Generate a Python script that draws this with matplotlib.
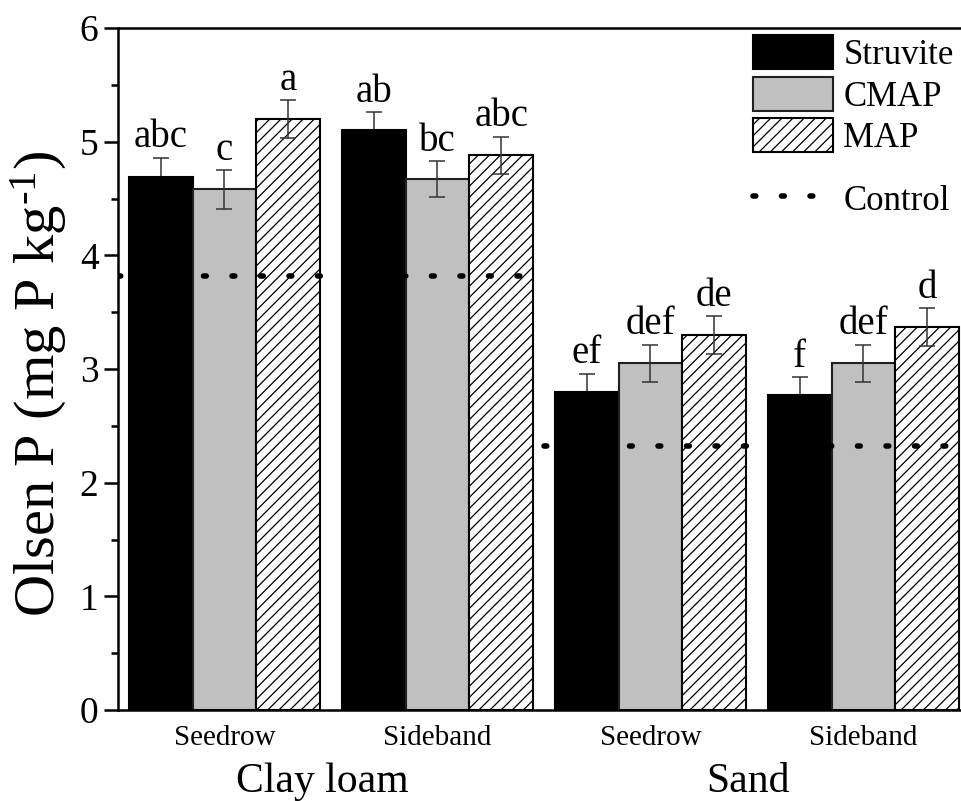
import matplotlib
matplotlib.use('Agg')
import matplotlib.pyplot as plt
import numpy as np
from matplotlib.patches import Patch
from matplotlib.lines import Line2D
import matplotlib.transforms as mtrans

plt.rcParams['font.family'] = ['Liberation Serif', 'DejaVu Serif']
plt.rcParams['mathtext.fontset'] = 'custom'
plt.rcParams['mathtext.rm'] = 'Liberation Serif'
plt.rcParams['mathtext.it'] = 'Liberation Serif:italic'
plt.rcParams['hatch.linewidth'] = 0.9

# ---------------- data ----------------
soils = ['Clay loam', 'Sand']
placements = ['Seedrow', 'Sideband', 'Seedrow', 'Sideband']
sources = ['Struvite', 'CMAP', 'MAP']
struvite = [4.69, 5.10, 2.80, 2.77]
cmap_vals = [4.58, 4.67, 3.05, 3.05]
map_vals = [5.20, 4.88, 3.30, 3.37]
struvite_err = [0.17, 0.16, 0.16, 0.16]
cmap_err = [0.17, 0.16, 0.165, 0.165]
map_err = [0.165, 0.165, 0.165, 0.165]
struvite_let = ['abc', 'ab', 'ef', 'f']
cmap_let = ['c', 'bc', 'def', 'def']
map_let = ['a', 'abc', 'de', 'd']
control = [3.82, 2.32]
yticks = [0, 1, 2, 3, 4, 5, 6]

# ---------------- figure ----------------
W, H = 962, 801
fig = plt.figure(figsize=(W / 100, H / 100), dpi=100)
ax = fig.add_axes([118 / W, 91 / H, 852 / W, 682 / H])

x = np.arange(1, len(placements) + 1)
w = 0.3
series = [
    (struvite, struvite_err, struvite_let, dict(facecolor='black', edgecolor='black'), 1.9),
    (cmap_vals, cmap_err, cmap_let, dict(facecolor='#c0c0c0', edgecolor='#202020'), 4),
    (map_vals, map_err, map_let, dict(facecolor='white', edgecolor='black', hatch='///'), 4),
]
offsets = [-w, 0, w]
for (vals, errs, lets, sty, ez), off in zip(series, offsets):
    ax.bar(x + off, vals, width=w, linewidth=1.5, zorder=2, **sty)
    ax.errorbar(x + off, vals, yerr=errs, fmt='none', ecolor='#333333',
                elinewidth=1.1, capsize=6, capthick=1.1, zorder=ez)
    for xi, v, e, l in zip(x + off, vals, errs, lets):
        ax.annotate(l, (xi, v + e), xytext=(0, 1), textcoords='offset points',
                    ha='center', va='bottom', fontsize=28)

dot_style = dict(color='black', linewidth=4.0, linestyle=(0, (0.5, 4.63)),
                 dash_capstyle='round', zorder=5)
for si, c in enumerate(control):
    g0 = x[2 * si] - 0.5
    g1 = x[2 * si + 1] + 0.5
    ax.plot([g0, g1], [c, c], **dot_style)

ax.set_xlim(0.5, 4.5)
ax.set_ylim(0, 6)
ax.set_yticks(yticks)
ax.set_yticklabels([str(t) for t in yticks], fontsize=27)
ax.set_yticks(np.arange(0.5, 6, 1.0), minor=True)
ax.tick_params(axis='y', which='major', direction='out', length=10, width=1.8, pad=4)
ax.tick_params(axis='y', which='minor', direction='out', length=5, width=1.8)
ax.set_xticks(x)
ax.set_xticklabels(placements, fontsize=21)
ax.tick_params(axis='x', which='both', length=0, pad=11)
for s in ax.spines.values():
    s.set_linewidth(1.8)

trans = mtrans.blended_transform_factory(ax.transData, fig.transFigure)
for si, name in enumerate(soils):
    ax.text((x[2 * si] + x[2 * si + 1]) / 2 - 0.04, 9 / H, name, transform=trans,
            ha='center', va='baseline', fontsize=30)

ax.set_ylabel(r'Olsen P (mg P kg$^{\text{-}1}$)', fontsize=42)
ax.yaxis.set_label_coords(-0.057, 0.478)

handles = [
    Patch(facecolor='black', edgecolor='black', linewidth=1.5),
    Patch(facecolor='#c0c0c0', edgecolor='#202020', linewidth=1.5),
    Patch(facecolor='white', edgecolor='black', hatch='///', linewidth=1.5),
]
leg1 = ax.legend(handles, sources, loc='upper left',
                 bbox_to_anchor=(753 / W, 1 - 35 / H), bbox_transform=fig.transFigure,
                 frameon=False, fontsize=25, handlelength=2.3, handleheight=1.15,
                 handletextpad=0.3, labelspacing=0.13, borderpad=0, borderaxespad=0)
ax.add_artist(leg1)
ax.legend([Line2D([], [], **dot_style)], ['Control'], loc='center left',
          bbox_to_anchor=(753 / W, 1 - 200 / H), bbox_transform=fig.transFigure,
          frameon=False, fontsize=25, handlelength=2.3, handleheight=1.15,
          handletextpad=0.3, borderpad=0, borderaxespad=0)

fig.savefig('out.png', dpi=100)
